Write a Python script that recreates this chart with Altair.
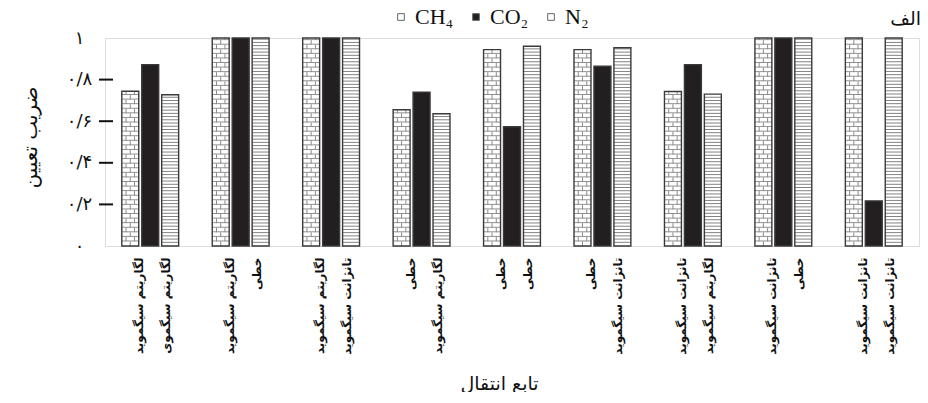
import altair as alt
import pandas as pd
import numpy as np

# ---------------- data ----------------
groups = [
    "لگاریتم سیگموید|لگاریتم سیگموی",
    "لگاریتم سیگموید|خطی",
    "لگاریتم سیگموید|تانژانت سیگموید",
    "خطی|لگاریتم سیگموید",
    "خطی|خطی",
    "خطی|تانژانت سیگموید",
    "تانژانت سیگموید|لگاریتم سیگموید",
    "تانژانت سیگموید|خطی",
    "تانژانت سیگموید|تانژانت سیگموید",
]
gases = ["CH₄", "CO₂", "N₂"]
ch4 = [0.744, 1.0, 1.0, 0.655, 0.944, 0.944, 0.743, 1.0, 1.0]
co2 = [0.872, 1.0, 1.0, 0.740, 0.573, 0.864, 0.872, 1.0, 0.217]
n2 = [0.727, 1.0, 1.0, 0.636, 0.960, 0.953, 0.730, 1.0, 1.0]
y_ticks = [0, 0.2, 0.4, 0.6, 0.8, 1]
y_tick_labels = ["۰", "۰/۲", "۰/۴", "۰/۶", "۰/۸", "۱"]
inner_ticks = [0.2, 0.4, 0.6, 0.8]
panel_label = ["الف"]

# ---------------- tables built from the arrays ----------------
bars = pd.DataFrame(
    [{"group": g, "gas": gas, "value": v}
     for gas, vals in zip(gases, [ch4, co2, n2])
     for g, v in zip(groups, vals)]
)

N2_STEP = 0.0155
LINE = 0.0045
n2_rows = []
for g, v in zip(groups, n2):
    for yy in np.arange(N2_STEP, v - 0.004, N2_STEP):
        n2_rows.append({"group": g, "gas": gases[2], "value": yy, "value2": yy + LINE})
n2_df = pd.DataFrame(n2_rows)

BRICK = 0.022
mortar_rows, joint_rows = [], []
for g, v in zip(groups, ch4):
    k = 0
    while k * BRICK < v - 0.003:
        y0 = k * BRICK
        y1 = min((k + 1) * BRICK, v)
        if k > 0:
            mortar_rows.append({"group": g, "gas": gases[0], "value": y0, "value2": y0 + LINE})
        if k % 2 == 0:
            joint_rows.append({"group": g, "gas": gases[0], "value": y0, "value2": y1, "pos": "c"})
        else:
            joint_rows.append({"group": g, "gas": gases[0], "value": y0, "value2": y1, "pos": "l"})
            joint_rows.append({"group": g, "gas": gases[0], "value": y0, "value2": y1, "pos": "r"})
        k += 1
mortar_df = pd.DataFrame(mortar_rows)
joint_df = pd.DataFrame(joint_rows)
tick_df = pd.DataFrame({"value": inner_ticks})
label_df = pd.DataFrame({"t": panel_label})

# ---------------- geometry / style ----------------
W, H = 814, 208
PI, PO = 0.15, 0.842
band = W / len(groups)
step = band / (3 - PI + 2 * PO)
bw = step * (1 - PI)
outer = band - step * (3 - PI)
align_l = (outer / 2 - bw / 4) / outer
align_r = (outer / 2 + bw / 4) / outer

PERSIAN = "DejaVu Sans"
xscale = alt.Scale(domain=groups, paddingInner=0, paddingOuter=0)
yscale = alt.Scale(domain=[0, 1], nice=False, zero=True)


def xoff(align=0.5):
    return alt.XOffset("gas:N", scale=alt.Scale(domain=gases, paddingInner=PI,
                                                  paddingOuter=PO, align=align))


label_array = "[" + ",".join("'" + s + "'" for s in y_tick_labels) + "]"

x_main = alt.X(
    "group:N", scale=xscale, sort=groups,
    axis=alt.Axis(
        labelAngle=270, labelExpr="split(datum.value, '|')", ticks=False, domain=False,
        labelPadding=11, labelOffset=-11, labelFontSize=12, labelFontWeight="bold",
        labelFont=PERSIAN, labelLineHeight=27, labelColor="#111",
        title="تابع انتقال", titleFont=PERSIAN, titleFontSize=19, titleFontWeight="normal",
        titleX=394, titleY=137, titleBaseline="middle", titleAnchor="middle",
        titleAlign="center", titleColor="#111",
    ),
)
y_main = alt.Y(
    "value:Q", scale=yscale,
    axis=alt.Axis(
        values=y_ticks, labelExpr=label_array + "[round(datum.value*5)]",
        ticks=False, domain=False, grid=False, labelAlign="center", labelPadding=26,
        labelFontSize=18, labelFont=PERSIAN, labelColor="#111",
        title="ضریب تعیین", titleFont=PERSIAN, titleFontSize=20, titleFontWeight="normal",
        titleAngle=270, titleX=-75, titleY=H / 2 - 5, titleBaseline="middle",
        titleAlign="center", titleColor="#111",
    ),
)

base_bars = alt.Chart(bars).mark_bar(strokeWidth=0).encode(
    x=x_main,
    xOffset=xoff(),
    y=y_main,
    color=alt.Color(
        "gas:N",
        scale=alt.Scale(domain=gases, range=["#ffffff", "#231f20", "#ffffff"]),
        legend=alt.Legend(
            orient="none", legendX=285, legendY=-32, direction="horizontal", title=None,
            labelFont="Liberation Serif", labelFontSize=22, labelColor="#111",
            symbolType="square", symbolSize=45, symbolStrokeColor="#666",
            symbolStrokeWidth=1, columnPadding=11, labelOffset=3,
        ),
    ),
)

n2_layer = alt.Chart(n2_df).mark_bar(color="#7a7a7a", strokeWidth=0).encode(
    x=alt.X("group:N", scale=xscale, sort=groups),
    xOffset=xoff(),
    y=alt.Y("value:Q", scale=yscale),
    y2="value2:Q",
)

mortar_layer = alt.Chart(mortar_df).mark_bar(color="#8a8a8a", strokeWidth=0).encode(
    x=alt.X("group:N", scale=xscale, sort=groups),
    xOffset=xoff(),
    y=alt.Y("value:Q", scale=yscale),
    y2="value2:Q",
)


def joints(pos, align):
    return alt.Chart(joint_df).transform_filter(
        alt.datum.pos == pos
    ).mark_rule(color="#8a8a8a", strokeWidth=1).encode(
        x=alt.X("group:N", scale=xscale, sort=groups),
        xOffset=xoff(align),
        y=alt.Y("value:Q", scale=yscale),
        y2="value2:Q",
    )


outline = alt.Chart(bars).mark_bar(fillOpacity=0, stroke="#3a3a3a", strokeWidth=1.4).encode(
    x=alt.X("group:N", scale=xscale, sort=groups),
    xOffset=xoff(),
    y=alt.Y("value:Q", scale=yscale),
)

ticks = alt.Chart(tick_df).mark_rule(color="#111", strokeWidth=2).encode(
    x=alt.value(-6), x2=alt.value(8), y=alt.Y("value:Q", scale=yscale),
)

panel = alt.Chart(label_df).mark_text(
    align="right", baseline="middle", fontSize=19, font=PERSIAN, color="#111",
).encode(
    x=alt.value(W + 2), y=alt.value(-19), text="t:N",
)

chart = alt.layer(
    base_bars, n2_layer, mortar_layer,
    joints("c", 0.5), joints("l", align_l), joints("r", align_r),
    outline, ticks, panel,
).resolve_scale(xOffset="independent").properties(
    width=W, height=H,
    autosize=alt.AutoSizeParams(type="none"),
    padding={"left": 97, "top": 30, "right": 1, "bottom": 146},
).configure_view(
    stroke="#222", strokeWidth=1.6,
).configure(background="white")

chart.save("out.html", embed_options={"renderer": "svg", "actions": False})
